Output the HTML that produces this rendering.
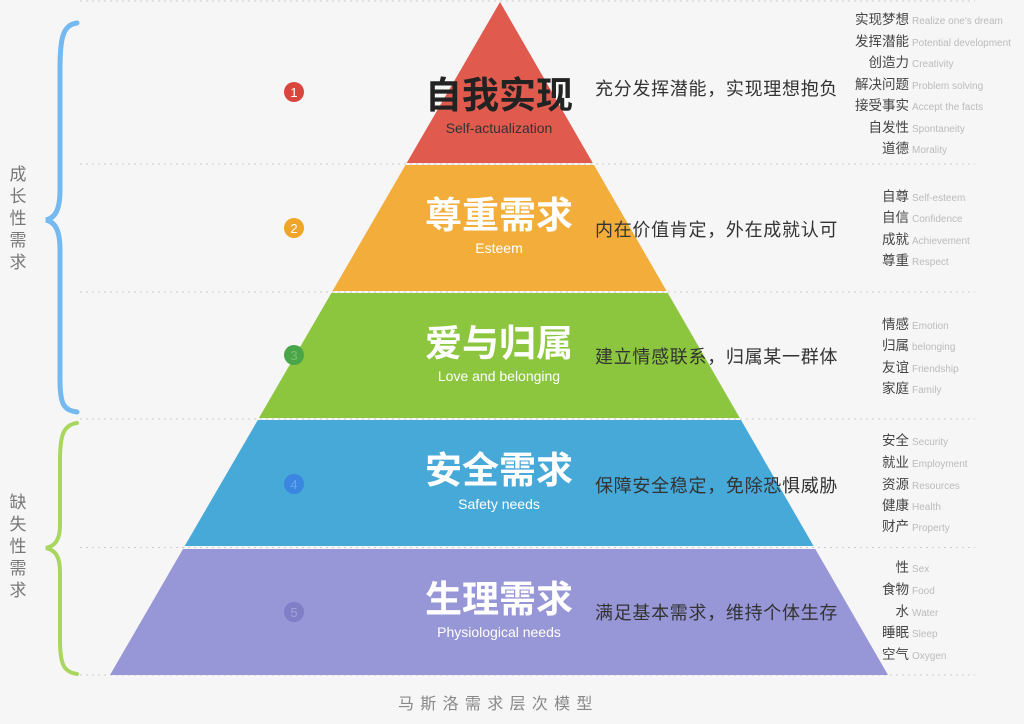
<!DOCTYPE html>
<html><head><meta charset="utf-8"><style>
html,body{margin:0;padding:0;background:#f6f6f6;}
svg{display:block;font-family:"Liberation Sans","Noto Sans CJK SC",sans-serif;}
.cn{font-size:13.5px;fill:#444;text-anchor:end;}
.en{font-size:10px;fill:#bbb;}
.t{font-size:37px;font-weight:bold;text-anchor:middle;fill:#fff;}
.s{font-size:14px;text-anchor:middle;fill:#fff;}
.d{font-size:18px;fill:#333;letter-spacing:0.7px;}
</style></head><body>
<svg width="1024" height="724" viewBox="0 0 1024 724" xmlns="http://www.w3.org/2000/svg">
<rect width="1024" height="724" fill="#f6f6f6"/>
<g stroke="#ccc" stroke-width="1" stroke-dasharray="2,4">
<line x1="80" y1="1" x2="975" y2="1"/>
<line x1="80" y1="164" x2="975" y2="164"/>
<line x1="80" y1="292" x2="975" y2="292"/>
<line x1="80" y1="419" x2="975" y2="419"/>
<line x1="80" y1="547.5" x2="975" y2="547.5"/>
<line x1="80" y1="675" x2="975" y2="675"/>
</g>
<polygon points="500,2 592.8,163 406.7,163" fill="#e05a4e"/>
<polygon points="405.5,165 594,165 666.6,291 332.5,291" fill="#f2ad3a"/>
<polygon points="331.4,293 667.8,293 739.8,418 258.9,418" fill="#8cc63f"/>
<polygon points="257.8,420 741,420 813.6,546 184.7,546" fill="#46a9d8"/>
<polygon points="183,549 815.3,549 888,675 110,675" fill="#9796d6"/>
<path d="M77,23 C62,25 60,40 60,70 L60,190 C60,210 55,218 46,220 C55,222 60,230 60,250 L60,380 C60,405 64,410 77,412" fill="none" stroke="#74b9f0" stroke-width="5" stroke-linecap="round"/>
<path d="M77,423 C63,425 60,436 60,460 L60,525 C60,540 55,546 46,548 C55,550 60,556 60,572 L60,640 C60,665 64,672 77,674" fill="none" stroke="#a9d65e" stroke-width="4" stroke-linecap="round"/>
<g font-size="17" fill="#777" text-anchor="middle">
<text x="18" y="180">成</text><text x="18" y="202">长</text><text x="18" y="224">性</text><text x="18" y="246">需</text><text x="18" y="268">求</text>
<text x="18" y="508">缺</text><text x="18" y="530">失</text><text x="18" y="552">性</text><text x="18" y="574">需</text><text x="18" y="596">求</text>
</g>
<g font-size="13" text-anchor="middle" fill="#fff">
<circle cx="294" cy="92" r="10" fill="#d9463e"/><text x="294" y="97">1</text>
<circle cx="294" cy="228" r="10" fill="#eea52a"/><text x="294" y="233">2</text>
<circle cx="294" cy="355" r="10" fill="#4aa54a"/><text x="294" y="360" fill="#7bc06a">3</text>
<circle cx="294" cy="484" r="10" fill="#3a86e0"/><text x="294" y="489" fill="#6aa6ea">4</text>
<circle cx="294" cy="612" r="10" fill="#7f7ec6"/><text x="294" y="617" fill="#a3a2d8">5</text>
</g>
<text class="t" x="499" y="108" style="fill:#222">自我实现</text>
<text class="s" x="499" y="133" style="fill:#333">Self-actualization</text>
<text class="t" x="499" y="228">尊重需求</text>
<text class="s" x="499" y="253">Esteem</text>
<text class="t" x="499" y="356">爱与归属</text>
<text class="s" x="499" y="381">Love and belonging</text>
<text class="t" x="499" y="483">安全需求</text>
<text class="s" x="499" y="509">Safety needs</text>
<text class="t" x="499" y="612">生理需求</text>
<text class="s" x="499" y="637">Physiological needs</text>
<text class="d" x="595" y="95">充分发挥潜能，实现理想抱负</text>
<text class="d" x="595" y="236">内在价值肯定，外在成就认可</text>
<text class="d" x="595" y="363">建立情感联系，归属某一群体</text>
<text class="d" x="595" y="492">保障安全稳定，免除恐惧威胁</text>
<text class="d" x="595" y="619">满足基本需求，维持个体生存</text>
<g>
<text class="cn" x="909" y="24">实现梦想</text><text class="en" x="912" y="24">Realize one's dream</text>
<text class="cn" x="909" y="46">发挥潜能</text><text class="en" x="912" y="46">Potential development</text>
<text class="cn" x="909" y="67">创造力</text><text class="en" x="912" y="67">Creativity</text>
<text class="cn" x="909" y="89">解决问题</text><text class="en" x="912" y="89">Problem solving</text>
<text class="cn" x="909" y="110">接受事实</text><text class="en" x="912" y="110">Accept the facts</text>
<text class="cn" x="909" y="132">自发性</text><text class="en" x="912" y="132">Spontaneity</text>
<text class="cn" x="909" y="153">道德</text><text class="en" x="912" y="153">Morality</text>
<text class="cn" x="909" y="201">自尊</text><text class="en" x="912" y="201">Self-esteem</text>
<text class="cn" x="909" y="222">自信</text><text class="en" x="912" y="222">Confidence</text>
<text class="cn" x="909" y="244">成就</text><text class="en" x="912" y="244">Achievement</text>
<text class="cn" x="909" y="265">尊重</text><text class="en" x="912" y="265">Respect</text>
<text class="cn" x="909" y="329">情感</text><text class="en" x="912" y="329">Emotion</text>
<text class="cn" x="909" y="350">归属</text><text class="en" x="912" y="350">belonging</text>
<text class="cn" x="909" y="372">友谊</text><text class="en" x="912" y="372">Friendship</text>
<text class="cn" x="909" y="393">家庭</text><text class="en" x="912" y="393">Family</text>
<text class="cn" x="909" y="445">安全</text><text class="en" x="912" y="445">Security</text>
<text class="cn" x="909" y="467">就业</text><text class="en" x="912" y="467">Employment</text>
<text class="cn" x="909" y="489">资源</text><text class="en" x="912" y="489">Resources</text>
<text class="cn" x="909" y="510">健康</text><text class="en" x="912" y="510">Health</text>
<text class="cn" x="909" y="531">财产</text><text class="en" x="912" y="531">Property</text>
<text class="cn" x="909" y="572">性</text><text class="en" x="912" y="572">Sex</text>
<text class="cn" x="909" y="594">食物</text><text class="en" x="912" y="594">Food</text>
<text class="cn" x="909" y="616">水</text><text class="en" x="912" y="616">Water</text>
<text class="cn" x="909" y="637">睡眠</text><text class="en" x="912" y="637">Sleep</text>
<text class="cn" x="909" y="659">空气</text><text class="en" x="912" y="659">Oxygen</text>
</g>
<text x="398" y="709" font-size="16" fill="#888" letter-spacing="6.3">马斯洛需求层次模型</text>
</svg>
</body></html>
